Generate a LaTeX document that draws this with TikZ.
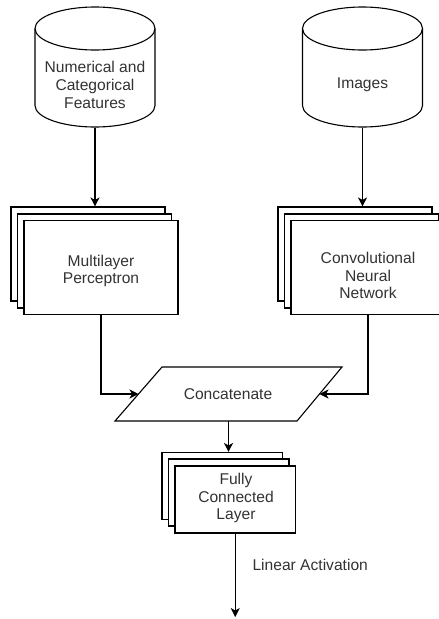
\documentclass[tikz,border=0pt]{standalone}
\usepackage{fontspec}
\setmainfont{Liberation Sans}
\usetikzlibrary{arrows.meta}
\begin{document}
\begin{tikzpicture}[x=1pt,y=-1pt,line width=1.1pt,
  txt/.style={font=\fontsize{15.6}{17.8}\selectfont,text=black!80,align=center,inner sep=0pt},
  box/.style={draw,fill=white,inner sep=0pt},
  bigbox/.style={box,minimum width=154pt,minimum height=94pt},
  smallbox/.style={box,minimum width=120.5pt,minimum height=67pt},
  cylarea/.style={inner sep=0pt,minimum width=120pt,minimum height=120pt},
  arr/.style={-{Stealth[length=9pt,width=9pt,inset=2.5pt]}}]
\clip (0,0) rectangle (439,619);
\fill[white] (0,0) rectangle (439,619);

% cylinders
\node[cylarea] (cylA) at (95,67) {};
\draw (35,28.5) -- (35,105.5) arc[start angle=180,end angle=0,x radius=60,y radius=21.5] -- (155,28.5);
\draw (95,28.5) ellipse[x radius=60,y radius=21.5];
\node[txt] (tA) at (95,85) {Numerical and\\Categorical\\Features};

\node[cylarea] (cylB) at (362.5,67) {};
\draw (302.5,28.5) -- (302.5,105.5) arc[start angle=180,end angle=0,x radius=60,y radius=21.5] -- (422.5,28.5);
\draw (362.5,28.5) ellipse[x radius=60,y radius=21.5];
\node[txt] (tB) at (362.5,85) {Images};

% stacked MLP
\node[bigbox] (mlp3) at (88,254) {};
\node[bigbox] (mlp2) at (94.5,261) {};
\node[bigbox] (mlp) at (101,267.5) {};
\node[txt] (mlpT) at (101,271) {Multilayer\\Perceptron};

% stacked CNN
\node[bigbox] (cnn3) at (355,254) {};
\node[bigbox] (cnn2) at (361.5,261) {};
\node[bigbox] (cnn) at (368,267.5) {};
\node[txt] (cnnT) at (368,275.5) {Convolutional\\Neural\\Network};

% concatenate
\draw (115,421) -- (162,367) -- (342,367) -- (297,421) -- cycle;
\node[txt] (cat) at (228,394) {Concatenate};
\coordinate (catL) at (138.5,394);
\coordinate (catR) at (319.5,394);
\coordinate (catB) at (228.5,421);

% fully connected
\node[smallbox] (fc3) at (222.25,486) {};
\node[smallbox] (fc2) at (228.75,492.5) {};
\node[smallbox] (fc) at (235.25,499.5) {};
\node[txt] (fcT) at (236,498) {Fully\\Connected\\Layer};

\coordinate (out) at (235.25,617);
\node[txt,anchor=west] (lin) at (252,565) {Linear Activation};

% connectors
\draw[arr] (cylA.south) -- (cylA.south |- mlp3.north);
\draw[arr] (cylB.south) -- (cylB.south |- cnn3.north);
\draw[arr] (mlp.south) |- (catL);
\draw[arr] (cnn.south) |- (catR);
\draw[arr] (catB) -- (catB |- fc3.north);
\draw[arr] (fc.south) -- (out);
\end{tikzpicture}
\end{document}
